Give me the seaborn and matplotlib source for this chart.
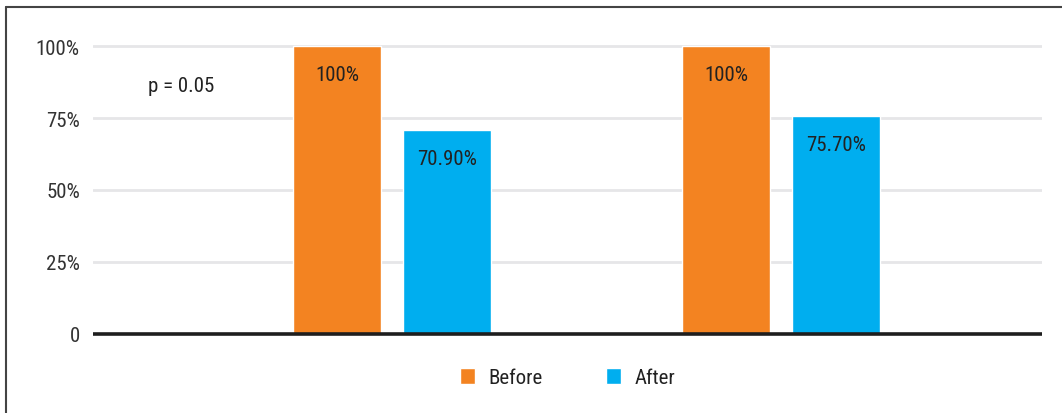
import matplotlib
matplotlib.use("Agg")
import matplotlib.pyplot as plt
from matplotlib import font_manager
from matplotlib.lines import Line2D
import seaborn as sns
import pandas as pd

# ---- data ----
groups = ["Group 1", "Group 2"]
periods = ["Before", "After"]
before_values = [100.0, 100.0]
after_values = [70.9, 75.7]
bar_labels_before = ["100%", "100%"]
bar_labels_after = ["70.90%", "75.70%"]
ytick_values = [0, 25, 50, 75, 100]
ytick_labels = ["0", "25%", "50%", "75%", "100%"]
p_text = "p = 0.05"
colors = {"Before": "#F38321", "After": "#00AEEF"}

df = pd.DataFrame({
    "group": groups * 2,
    "period": ["Before"] * len(groups) + ["After"] * len(groups),
    "value": before_values + after_values,
})

sns.set_theme(style="white")
available = {f.name for f in font_manager.fontManager.ttflist}
family = "DejaVu Sans"
for cand in ["Liberation Sans Narrow", "Roboto Condensed", "Roboto"]:
    if cand in available:
        family = cand
        break
plt.rcParams["font.family"] = [family, "DejaVu Sans"]

FS = 15
W, H = 1062, 414
fig = plt.figure(figsize=(W / 100, H / 100), dpi=100)

# axes placement (pixels)
x0, x1 = 93, 1042
ymin, ymax = -3, 105
y_zero_px = 335
ppu = 2.88
bot_px = y_zero_px - ymin * ppu
top_px = y_zero_px - ymax * ppu
ax = fig.add_axes([x0 / W, 1 - bot_px / H, (x1 - x0) / W, (bot_px - top_px) / H])

sns.barplot(data=df, x="group", y="value", hue="period", order=groups,
            hue_order=periods, palette=colors, width=0.5656, gap=0.2,
            saturation=1, ax=ax, errorbar=None)

ax.set_xlim(-0.769, 1.671)
ax.set_ylim(ymin, ymax)
ax.set_yticks(ytick_values)
ax.set_yticklabels(ytick_labels)
ax.set_xticks([])
ax.set_xlabel("")
ax.set_ylabel("")
for s in ax.spines.values():
    s.set_visible(False)
ax.tick_params(axis="y", length=0, pad=9.5, labelsize=FS, labelcolor="#333333")
for v in ytick_values[1:]:
    ax.axhline(v, color="#E6E6E8", lw=2, zorder=0)
ax.axhline(0, color="#1E1E1E", lw=2.6, zorder=3)

# bar labels
bars = [p for p in ax.patches if p.get_height() > 0]
bars = sorted(bars, key=lambda p: p.get_x())
order_labels = [bar_labels_before[0], bar_labels_after[0], bar_labels_before[1], bar_labels_after[1]]
for p, lab in zip(bars, order_labels):
    ax.annotate(lab, (p.get_x() + p.get_width() / 2, p.get_height()),
                xytext=(0, -20.5), textcoords="offset points",
                ha="center", va="center", fontsize=FS, color="#222222")

ax.text(-0.628, 86.3, p_text, ha="left", va="center", fontsize=FS, color="#222222")

sns.move_legend(ax, "center", bbox_to_anchor=(0.5, -0.113), ncol=2, frameon=False,
                title=None, handlelength=0.72, handleheight=0.77, handletextpad=0.67,
                columnspacing=3.0, fontsize=FS)
for t in ax.get_legend().get_texts():
    t.set_color("#222222")

# outer frame (top and left)
fig.add_artist(Line2D([6 / W, 1], [1 - 8 / H, 1 - 8 / H], transform=fig.transFigure,
                      color="#444444", lw=1.5))
fig.add_artist(Line2D([6 / W, 6 / W], [0, 1 - 8 / H], transform=fig.transFigure,
                      color="#444444", lw=1.5))

fig.savefig("out.png", dpi=100)
